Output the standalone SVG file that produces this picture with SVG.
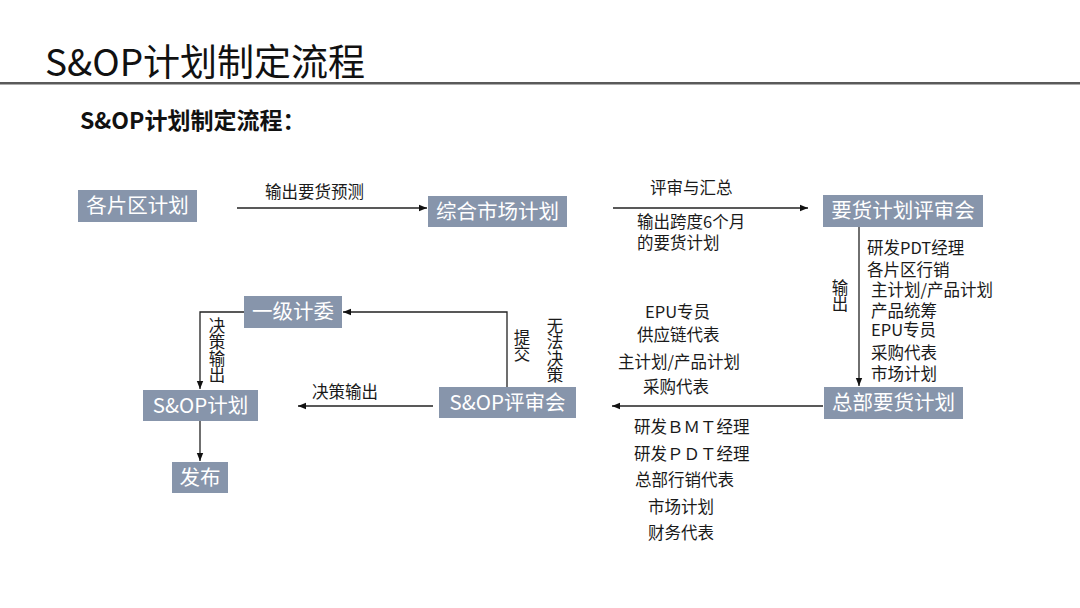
<svg xmlns="http://www.w3.org/2000/svg" width="1080" height="608" viewBox="0 0 1080 608">
<defs>
<style>
.box{fill:#8795ab;}
.bt{fill:#ffffff;font-family:"Noto Sans CJK SC","Noto Sans",sans-serif;font-size:20.5px;text-anchor:middle;}
.lb{fill:#1a1a1a;font-family:"Noto Sans CJK SC","Noto Sans",sans-serif;font-size:16.5px;}
.vt{fill:#1a1a1a;font-family:"Noto Sans CJK SC","Noto Sans",sans-serif;font-size:16.5px;writing-mode:vertical-rl;}
.ln{fill:none;stroke:#222;stroke-width:1.3;}
</style>
<marker id="ah" viewBox="0 0 10 10" refX="10" refY="5" markerWidth="8" markerHeight="8" markerUnits="userSpaceOnUse" orient="auto">
<path d="M0,1 L10,5 L0,9 z" fill="#111"/>
</marker>
</defs>
<rect width="1080" height="608" fill="#ffffff"/>
<text x="45" y="76" font-family="'Noto Sans CJK SC','Noto Sans',sans-serif" font-size="37" fill="#111">S&amp;OP计划制定流程</text>
<rect x="0" y="82" width="1080" height="2.5" fill="#5a5a5a"/>
<text x="80" y="129" font-family="'Noto Sans CJK SC','Noto Sans',sans-serif" font-size="23" font-weight="bold" fill="#111">S&amp;OP计划制定流程：</text>

<g id="connectors">
<line class="ln" x1="237" y1="208" x2="427" y2="208" marker-end="url(#ah)"/>
<line class="ln" x1="613" y1="208" x2="808" y2="208" marker-end="url(#ah)"/>
<line class="ln" x1="859" y1="227" x2="859" y2="386" marker-end="url(#ah)"/>
<line class="ln" x1="823" y1="406" x2="612" y2="406" marker-end="url(#ah)"/>
<line class="ln" x1="433" y1="406" x2="298" y2="406" marker-end="url(#ah)"/>
<polyline class="ln" points="507,387 507,312 343,312" marker-end="url(#ah)"/>
<polyline class="ln" points="244,312 200,312 200,389" marker-end="url(#ah)"/>
<line class="ln" x1="200" y1="421" x2="200" y2="461" marker-end="url(#ah)"/>
</g>

<g id="labels">
<text class="lb" x="265" y="198">输出要货预测</text>
<text class="lb" x="650" y="194">评审与汇总</text>
<text class="lb" x="637" y="228">输出跨度6个月</text>
<text class="lb" x="637" y="249">的要货计划</text>
<text class="vt" x="840" y="279">输出</text>
<text class="lb" x="867" y="254">研发PDT经理</text>
<text class="lb" x="867" y="276">各片区行销</text>
<text class="lb" x="871" y="296">主计划/产品计划</text>
<text class="lb" x="871" y="317">产品统筹</text>
<text class="lb" x="871" y="336">EPU专员</text>
<text class="lb" x="871" y="359">采购代表</text>
<text class="lb" x="871" y="380">市场计划</text>
<text class="lb" x="645" y="318">EPU专员</text>
<text class="lb" x="637" y="341">供应链代表</text>
<text class="lb" x="618" y="368">主计划/产品计划</text>
<text class="lb" x="643" y="393">采购代表</text>
<text class="lb" x="634" y="433">研发ＢＭＴ经理</text>
<text class="lb" x="634" y="460">研发ＰＤＴ经理</text>
<text class="lb" x="635" y="486">总部行销代表</text>
<text class="lb" x="648" y="513">市场计划</text>
<text class="lb" x="648" y="539">财务代表</text>
<text class="lb" x="312" y="398">决策输出</text>
<text class="vt" x="522" y="329">提交</text>
<text class="vt" x="555" y="317">无法决策</text>
<text class="vt" x="217" y="317">决策输出</text>
</g>

<g id="n1"><rect class="box" x="78" y="190" width="119" height="32"/><text class="bt" x="137.5" y="213">各片区计划</text></g>
<g id="n2"><rect class="box" x="428" y="196" width="139" height="31"/><text class="bt" x="497.5" y="219">综合市场计划</text></g>
<g id="n3"><rect class="box" x="823" y="195" width="160" height="32"/><text class="bt" x="903" y="218">要货计划评审会</text></g>
<g id="n4"><rect class="box" x="824" y="387" width="139" height="32"/><text class="bt" x="893.5" y="410">总部要货计划</text></g>
<g id="n5"><rect class="box" x="439" y="387" width="137" height="31"/><text class="bt" x="507.5" y="410">S&amp;OP评审会</text></g>
<g id="n6"><rect class="box" x="244" y="296" width="98" height="32"/><text class="bt" x="293" y="319">一级计委</text></g>
<g id="n7"><rect class="box" x="143" y="390" width="115" height="31"/><text class="bt" x="200.5" y="413">S&amp;OP计划</text></g>
<g id="n8"><rect class="box" x="172" y="462" width="56" height="31"/><text class="bt" x="200" y="485">发布</text></g>
</svg>
